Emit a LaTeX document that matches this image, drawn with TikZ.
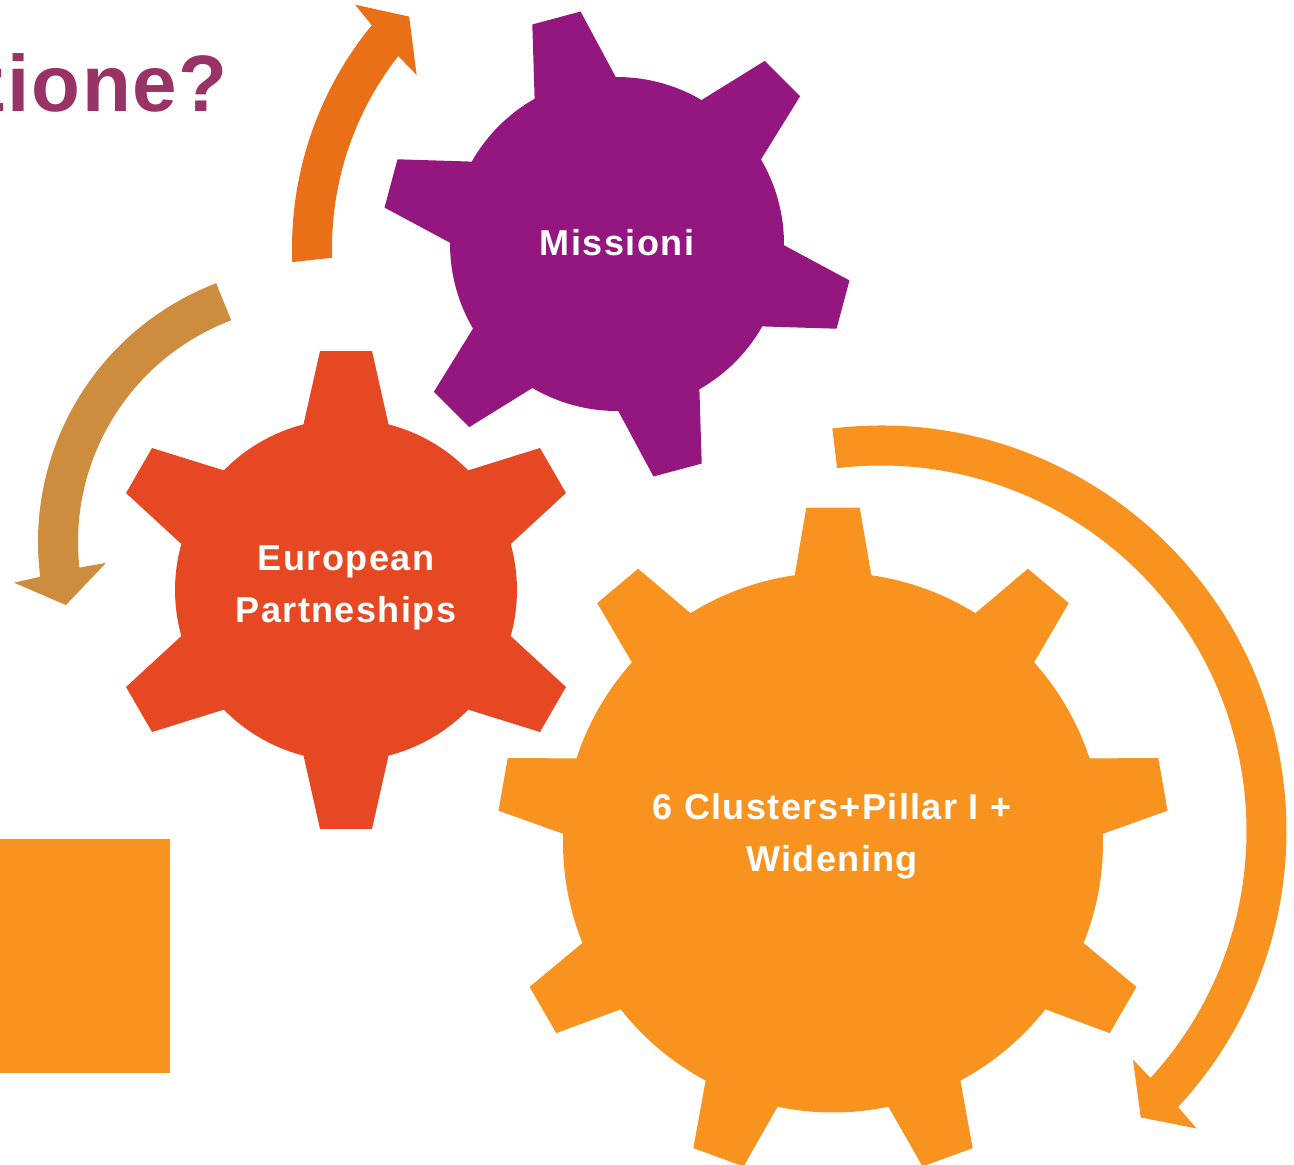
\documentclass[tikz,border=0pt]{standalone}
\usepackage{fontspec}
\setmainfont{Liberation Sans}
\newfontfamily\spacedfont[LetterSpace=4]{Liberation Sans}
\newfontfamily\titlefont[LetterSpace=2]{Liberation Sans}

\definecolor{gearpurple}{HTML}{93177E}
\definecolor{gearred}{HTML}{E54823}
\definecolor{gearorange}{HTML}{F7931E}
\definecolor{arroworange}{HTML}{E97017}
\definecolor{arrowtan}{HTML}{CE8D3E}
\definecolor{titlecolor}{HTML}{993366}

% #1 colour, #2 centre, #3 teeth, #4 first tooth angle,
% #5 body radius, #6 tooth length, #7 base half width, #8 tip half width
\newcommand{\drawgear}[8]{%
  \pgfmathtruncatemacro\gearstep{360/#3}%
  \pgfmathtruncatemacro\gearnext{#4+\gearstep}%
  \pgfmathtruncatemacro\gearlast{#4+360-\gearstep}%
  \pgfmathsetmacro\gearbase{asin(#7/#5)}%
  \pgfmathsetmacro\geartip{atan(#8/#6)}%
  \pgfmathsetmacro\gearrad{veclen(#6,#8)}%
  \fill[#1, shift={#2}] (#4-\gearbase:#5)
    \foreach \t in {#4,\gearnext,...,\gearlast} {
      -- (\t-\geartip:\gearrad) -- (\t+\geartip:\gearrad) -- (\t+\gearbase:#5)
      arc[start angle=\t+\gearbase, end angle=\t+\gearstep-\gearbase, radius=#5]
    } -- cycle;
}

\begin{document}
\begin{tikzpicture}[x=1pt, y=1pt]
    \tikzstyle{gear label} = [text=white, align=center, inner sep=0pt,
        font=\spacedfont\bfseries\fontsize{36}{52}\selectfont]
    \tikzstyle{title text} = [text=titlecolor, inner sep=0pt,
        font=\titlefont\bfseries\fontsize{80}{96}\selectfont]
    \useasboundingbox (0,0) rectangle (1294,-1165);

    % curved arrows
    \fill[arroworange, shift={(643,-248)}] (182.3:351)
        arc[start angle=182.3, end angle=140.6, radius=351]
        -- (139.8:377) -- (135.3:329) -- (142.6:285) -- (141.9:311)
        arc[start angle=141.9, end angle=181.8, radius=311] -- cycle;
    \fill[arrowtan, shift={(315,-542)}] (110.9:277)
        arc[start angle=110.9, end angle=187.2, radius=277]
        -- (187.7:303.7) -- (194.2:257) -- (185.7:210) -- (186.2:237)
        arc[start angle=186.2, end angle=110.7, radius=237] -- cycle;
    \fill[gearorange, shift={(881,-831)}] (96.9:405.5)
        arc[start angle=96.9, end angle=-42.9, radius=405.5]
        -- (-43.3:433.7) -- (-47.8:386.7) -- (-42.2:340) -- (-42.5:365.5)
        arc[start angle=-42.5, end angle=96.9, radius=365.5] -- cycle;

    % gears
    \drawgear{gearpurple}{(617,-244)}{6}{45}{167}{234}{42}{25}
    \drawgear{gearred}{(346,-590)}{6}{30}{171}{239}{42.5}{26}
    \drawgear{gearorange}{(833,-842.5)}{9}{10}{270}{335}{38.3}{26.7}

    \fill[gearorange] (0,-839) rectangle (170,-1073.3);

    \node[title text, anchor=base east] (title) at (228,-111) {zione?};
    \node[gear label] (missioni) at (617,-243) {Missioni};
    \node[gear label] (partnerships) at (346,-588) {European\\Partneships};
    \node[gear label] (clusters) at (832,-836) {6 Clusters+Pillar I +\\Widening};
\end{tikzpicture}
\end{document}
